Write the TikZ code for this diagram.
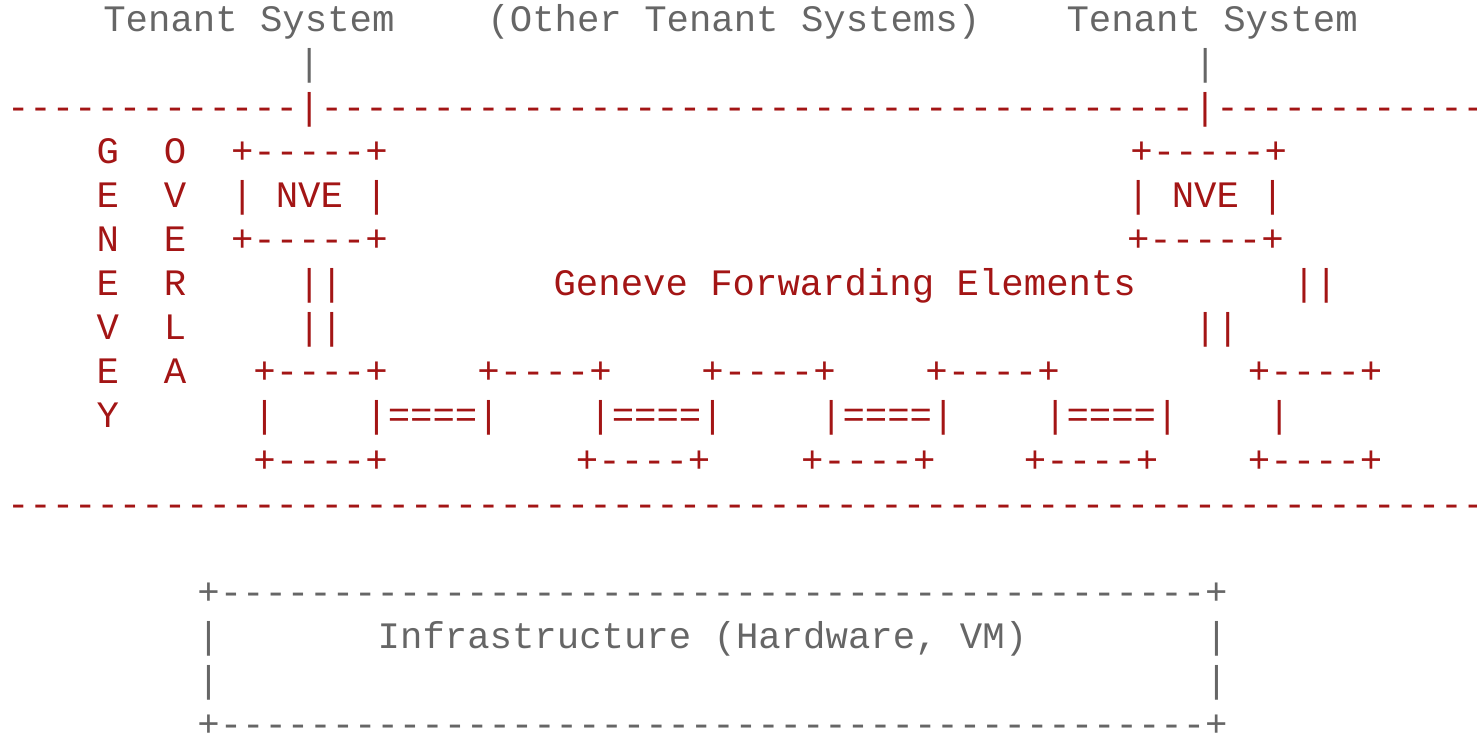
\documentclass[tikz,border=0pt]{standalone}
\usepackage{fontspec}
\setmonofont{Liberation Mono}
\usetikzlibrary{positioning}

\definecolor{genred}{RGB}{163,21,21}
\definecolor{tsgray}{RGB}{102,102,102}

\begin{document}
\begin{tikzpicture}[x=0.448cm, y=-0.88cm]
 \tikzset{
asc/.style = {font=\ttfamily\fontsize{21.24pt}{25pt}\selectfont, anchor=base west, inner sep=0pt, outer sep=0pt},
redtxt/.style = {asc, text=genred},
graytxt/.style = {asc, text=tsgray}}

\useasboundingbox (0,0) rectangle (65.9375,16.659);
\clip (0,0) rectangle (65.9375,16.659);

\begin{scope}[shift={(0.3125,0.727)}]
    % tenant systems
    \node [graytxt] (TS1) at (4.3,0) {Tenant System};
    \node [graytxt] (TSother) at (21.45,0) {(Other Tenant Systems)};
    \node [graytxt] (TS2) at (47.3,0) {Tenant System};
    \node [graytxt] (TS1link) at (13,1) {|};
    \node [graytxt] (TS2link) at (53,1) {|};

    % overlay borders
    \node [redtxt] (topline) at (0,2) {-------------|---------------------------------------|-------------};
    \node [redtxt] (botline) at (0,11) {-------------------------------------------------------------------};

    \foreach \ch [count=\i from 3] in {G,E,N,E,V,E,Y}
      \node [redtxt] (geneve\i) at (4,\i) {\ch};
    \foreach \ch [count=\i from 3] in {O,V,E,R,L,A}
      \node [redtxt] (overlay\i) at (7,\i) {\ch};

    % NVEs
    \node [redtxt] (NVE1top) at (10,3) {+-----+};
    \node [redtxt] (NVE1) at (10,4) {| NVE |};
    \node [redtxt] (NVE1bot) at (10,5) {+-----+};
    \node [redtxt] (NVE2top) at (50.15,3) {+-----+};
    \node [redtxt] (NVE2) at (50,4) {| NVE |};
    \node [redtxt] (NVE2bot) at (50,5) {+-----+};

    \node [redtxt] (up1a) at (13,6) {||};
    \node [redtxt] (up1b) at (13,7) {||};
    \node [redtxt] (up2a) at (57.4,6) {||};
    \node [redtxt] (up2b) at (53,7) {||};
    \node [redtxt] (GFE) at (24.4,6) {Geneve Forwarding Elements};

    % forwarding elements
    \node [redtxt] (FE1top) at (11,8) {+----+};
    \node [redtxt] (FE2top) at (21,8) {+----+};
    \node [redtxt] (FE3top) at (31,8) {+----+};
    \node [redtxt] (FE4top) at (41,8) {+----+};
    \node [redtxt] (FE5top) at (55.4,8) {+----+};

    \node [redtxt] (FE1side) at (11,9) {|};
    \node [redtxt] (link1) at (16,9) {|====|};
    \node [redtxt] (link2) at (26,9) {|====|};
    \node [redtxt] (link3) at (36.3,9) {|====|};
    \node [redtxt] (link4) at (46.3,9) {|====|};
    \node [redtxt] (FE5side) at (56.3,9) {|};

    \node [redtxt] (FE1bot) at (11,10) {+----+};
    \node [redtxt] (FE2bot) at (25.4,10) {+----+};
    \node [redtxt] (FE3bot) at (35.45,10) {+----+};
    \node [redtxt] (FE4bot) at (45.4,10) {+----+};
    \node [redtxt] (FE5bot) at (55.4,10) {+----+};

    % infrastructure
    \node [graytxt] (Infratop) at (8.5,13) {+--------------------------------------------+};
    \node [graytxt] (InfraL1) at (8.5,14) {|};
    \node [graytxt] (Infra) at (16.55,14) {Infrastructure (Hardware, VM)};
    \node [graytxt] (InfraR1) at (53.5,14) {|};
    \node [graytxt] (InfraL2) at (8.5,15) {|};
    \node [graytxt] (InfraR2) at (53.5,15) {|};
    \node [graytxt] (Infrabot) at (8.5,16) {+--------------------------------------------+};
\end{scope}

\end{tikzpicture}
\end{document}
